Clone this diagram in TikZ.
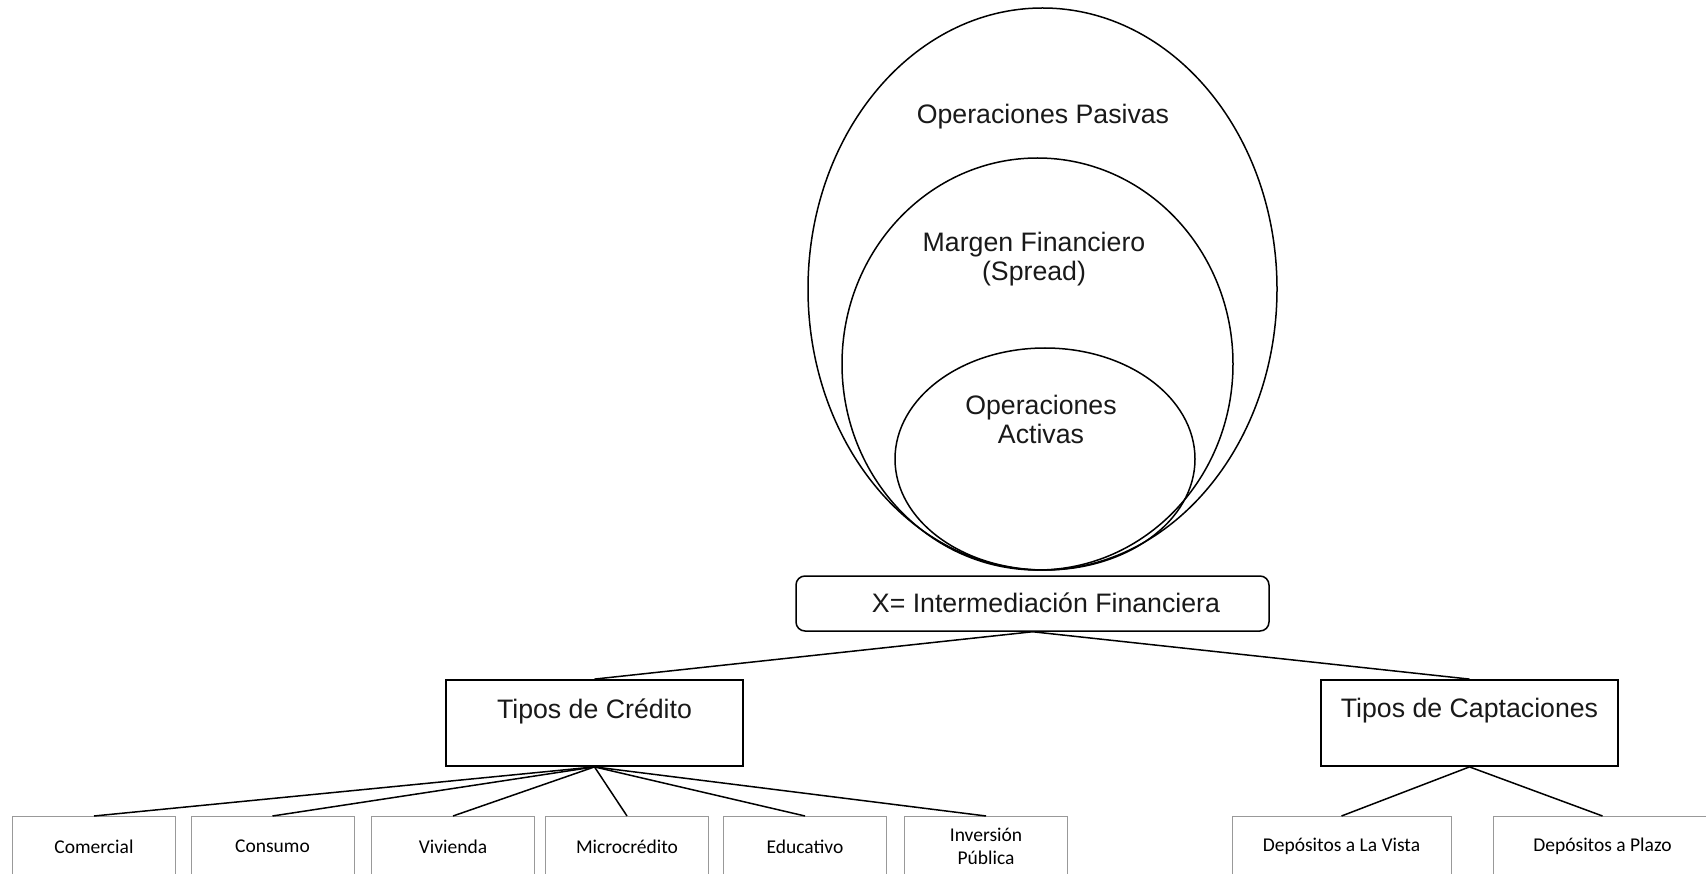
\documentclass[tikz,border=0pt]{standalone}
\usepackage{fontspec}
\setmainfont{Liberation Sans}
\newfontfamily\leaffont{Carlito}
\usetikzlibrary{shapes.geometric}
\begin{document}
\begin{tikzpicture}[x=1pt,y=-1pt,
  ring/.style={draw=black, line width=1.5pt, ellipse, inner sep=0pt},
  bigtext/.style={font=\fontsize{26.7}{29}\selectfont, align=center, inner sep=0pt, text=black!90},
  xbox/.style={draw=black, line width=1.5pt, rounded corners=9pt, minimum width=473pt, minimum height=55pt, inner sep=0pt},
  tipobox/.style={draw=black, line width=1.8pt, minimum width=297pt, minimum height=86pt, inner sep=0pt},
  leafbox/.style={draw=black!40, line width=1pt, minimum height=64pt, inner sep=0pt, anchor=north},
  leaftext/.style={font=\leaffont\fontsize{19.5}{22.5}\selectfont, align=center, inner sep=0pt},
  conn/.style={draw=black, line width=1.5pt}]
\useasboundingbox (0,0) rectangle (1706,874);
\fill[white] (0,0) rectangle (1706,874);
\clip (0,0) rectangle (1706,874);
% nested ellipses
\node[ring, minimum width=469pt, minimum height=562pt] (pasivas) at (1042.5,289) {};
\node[ring, minimum width=391pt, minimum height=412pt] (margen) at (1037.5,364) {};
\node[ring, minimum width=300pt, minimum height=222pt] (activas) at (1045,459) {};
\node[bigtext] (tpas) at (1043,117) {Operaciones Pasivas};
\node[bigtext] (tmar) at (1034,259) {Margen Financiero\\(Spread)};
\node[bigtext] (tact) at (1041,419) {Operaciones\\Activas};
% central box
\node[xbox] (x) at (1032.5,603.5) {};
\node[bigtext] (tx) at (1046,603) {X= Intermediación Financiera};
% second level
\node[tipobox] (cred) at (594.5,723) {};
\node[bigtext] at (594.5,711) {Tipos de Crédito};
\node[tipobox] (capt) at (1469.5,723) {};
\node[bigtext] at (1469.5,711) {Tipos de Captaciones};
% leaves
\node[leafbox, minimum width=163pt] (com) at (94,816) {};
\node[leaftext] at (94,846.5) {Comercial};
\node[leafbox, minimum width=163pt] (cons) at (272.5,816) {};
\node[leaftext] at (272.5,846.5) {Consumo};
\node[leafbox, minimum width=163pt] (viv) at (453,816) {};
\node[leaftext] at (453,846.5) {Vivienda};
\node[leafbox, minimum width=163pt] (mic) at (627,816) {};
\node[leaftext] at (627,846.5) {Microcrédito};
\node[leafbox, minimum width=163pt] (edu) at (805,816) {};
\node[leaftext] at (805,846.5) {Educativo};
\node[leafbox, minimum width=163pt] (inv) at (986,816) {};
\node[leaftext] at (986,846.5) {Inversión\\Pública};
\node[leafbox, minimum width=219pt] (vista) at (1341.5,816) {};
\node[leaftext] at (1341.5,846.5) {Depósitos a La Vista};
\node[leafbox, minimum width=219pt] (plazo) at (1602.5,816) {};
\node[leaftext] at (1602.5,846.5) {Depósitos a Plazo};
% connectors
\draw[conn] (x.south) -- (cred.north);
\draw[conn] (x.south) -- (capt.north);
\foreach \leaf in {com,cons,viv,mic,edu,inv}
  \draw[conn] (cred.south) -- (\leaf.north);
\draw[conn] (capt.south) -- (vista.north);
\draw[conn] (capt.south) -- (plazo.north);
\end{tikzpicture}
\end{document}
